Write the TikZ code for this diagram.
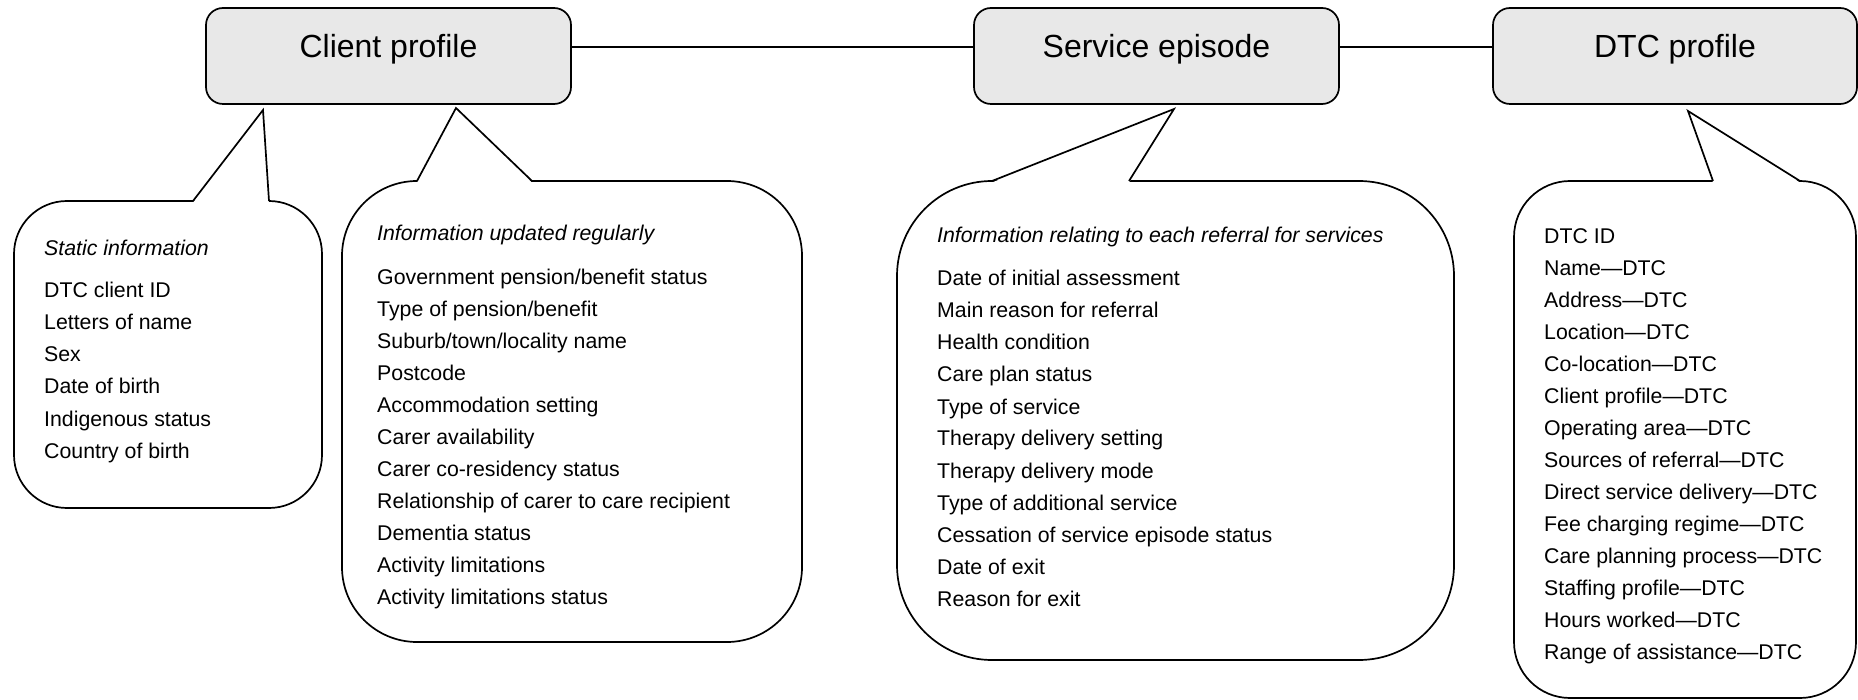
\documentclass[tikz,border=0pt]{standalone}
\usepackage{fontspec}
\setmainfont{Liberation Sans}
\definecolor{hdrgray}{RGB}{232,232,232}
\newcommand{\hdrtext}[1]{\raisebox{-1.5pt}[0pt][0pt]{#1}}
\tikzset{
  hdr/.style={draw, line width=1.7pt, fill=hdrgray, rounded corners=17pt,
    minimum height=96pt, inner sep=0pt, font=\fontsize{32}{38}\selectfont},
  bub/.style={draw, line width=1.7pt, fill=white, inner sep=0pt},
  ptr/.style={line width=1.7pt, line join=miter},
  link/.style={line width=1.7pt},
  itm/.style={anchor=base west, inner sep=0pt, font=\fontsize{21.3}{25}\selectfont},
  ihd/.style={anchor=base west, inner sep=0pt, font=\fontsize{21.3}{25}\selectfont\itshape},
}
\begin{document}
\begin{tikzpicture}[x=1pt,y=-1pt]
\path[use as bounding box, fill=white] (0,0) rectangle (1858,700);

% header boxes
\node[hdr, minimum width=365pt] (cp) at (388.5,56) {\hdrtext{Client profile}};
\node[hdr, minimum width=365pt] (se) at (1156.5,56) {\hdrtext{Service episode}};
\node[hdr, minimum width=364pt] (dp) at (1675,56) {\hdrtext{DTC profile}};
\draw[link] ([yshift=9pt]cp.east) -- ([yshift=9pt]se.west);
\draw[link] ([yshift=9pt]se.east) -- ([yshift=9pt]dp.west);

% callout 1
\node[bub, rounded corners=53pt, minimum width=308pt, minimum height=307pt] (s1) at (168,354.5) {};
\coordinate (s1l) at (193,201); \coordinate (s1t) at (263,110); \coordinate (s1r) at (269,201);
\fill[white] (193,202.5) -- (s1t) -- (269,202.5) -- cycle;
\draw[ptr] (s1l) -- (s1t) -- (s1r);

% callout 2
\node[bub, rounded corners=75pt, minimum width=460pt, minimum height=461pt] (s2) at (572,411.5) {};
\coordinate (s2l) at (417,181); \coordinate (s2t) at (456,108); \coordinate (s2r) at (532,181);
\fill[white] (417,182.5) -- (s2t) -- (532,182.5) -- cycle;
\draw[ptr] (s2l) -- (s2t) -- (s2r);

% callout 3
\node[bub, rounded corners=95pt, minimum width=557pt, minimum height=479pt] (s3) at (1175.5,420.5) {};
\coordinate (s3l) at (992,181); \coordinate (s3t) at (1174,109); \coordinate (s3r) at (1129,181);
\fill[white] (992,182.5) -- (s3t) -- (1129,182.5) -- cycle;
\draw[ptr] (s3l) -- (s3t) -- (s3r);

% callout 4
\node[bub, rounded corners=56pt, minimum width=342pt, minimum height=517pt] (s4) at (1685,439.5) {};
\coordinate (s4l) at (1713,181); \coordinate (s4t) at (1688,111); \coordinate (s4r) at (1800,181);
\fill[white] (1713,182.5) -- (s4t) -- (1800,182.5) -- cycle;
\draw[ptr] (s4l) -- (s4t) -- (s4r);

% texts
\node[ihd] (h1) at (44,256) {Static information};
\foreach \t [count=\i from 0] in {DTC client ID, Letters of name, Sex, Date of birth, Indigenous status, Country of birth}
  \node[itm] (a\i) at (44,{298+32*\i}) {\t};

\node[ihd] (h2) at (377,241) {Information updated regularly};
\foreach \t [count=\i from 0] in {Government pension/benefit status, Type of pension/benefit, Suburb/town/locality name, Postcode, Accommodation setting, Carer availability, Carer co-residency status, Relationship of carer to care recipient, Dementia status, Activity limitations, Activity limitations status}
  \node[itm] (b\i) at (377,{284.5+32*\i}) {\t};

\node[ihd] (h3) at (937,243) {Information relating to each referral for services};
\foreach \t [count=\i from 0] in {Date of initial assessment, Main reason for referral, Health condition, Care plan status, Type of service, Therapy delivery setting, Therapy delivery mode, Type of additional service, Cessation of service episode status, Date of exit, Reason for exit}
  \node[itm] (c\i) at (937,{286+32*\i}) {\t};

\foreach \t [count=\i from 0] in {DTC ID, Name—DTC, Address—DTC, Location—DTC, Co-location—DTC, Client profile—DTC, Operating area—DTC, Sources of referral—DTC, Direct service delivery—DTC, Fee charging regime—DTC, Care planning process—DTC, Staffing profile—DTC, Hours worked—DTC, Range of assistance—DTC}
  \node[itm] (d\i) at (1544,{243.5+32*\i}) {\t};
\end{tikzpicture}
\end{document}
